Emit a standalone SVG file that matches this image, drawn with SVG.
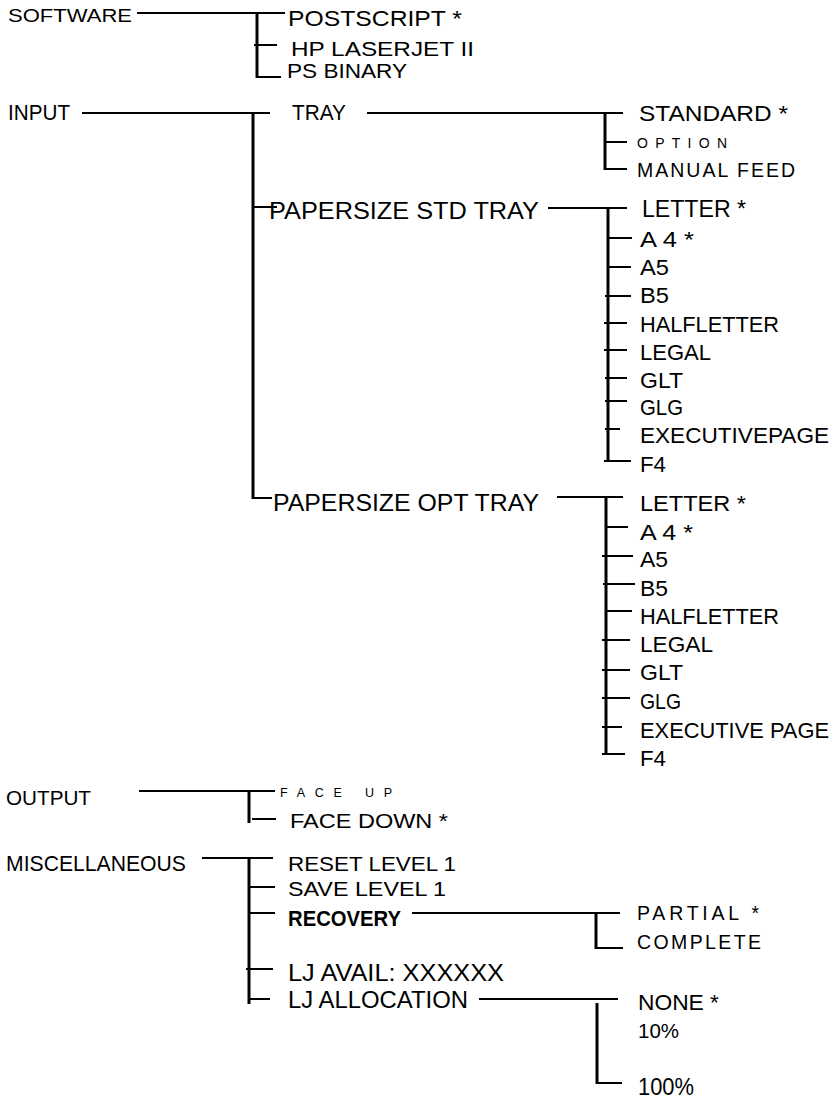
<svg xmlns="http://www.w3.org/2000/svg" width="836" height="1098" viewBox="0 0 836 1098">
<style>
text{font-family:"Liberation Sans",Arial,sans-serif;fill:#000}
.h{stroke:#000;stroke-width:2.2;fill:none}
.v{stroke:#000;stroke-width:3;fill:none}
.sp{letter-spacing:3px}
</style>
<rect width="836" height="1098" fill="#fff"/>
<g id="connectors">
<!-- software -->
<path class="h" d="M137 13H285M254 45H277M257 77H281"/>
<path class="v" d="M257 13V78"/>
<!-- input -->
<path class="h" d="M82 113H270M253 207H277M253 498H272"/>
<path class="v" d="M253 113V499"/>
<!-- tray -->
<path class="h" d="M367 113H623M605 142H627M605 169H627"/>
<path class="v" d="M605 113V170"/>
<!-- papersize std -->
<path class="h" d="M548 208H627M608 238H632M608 267H631M605 296H631M604 323H627M604 350H627M605 378H627M605 401H627M605 429H620M604 461H631"/>
<path class="v" d="M608 208V462"/>
<!-- papersize opt -->
<path class="h" d="M557 497H623M606 527H628M602 556H633M603 584H635M606 611H632M602 640H630M602 670H630M602 698H630M602 727H622M602 754H625"/>
<path class="v" d="M606 497V755"/>
<!-- output -->
<path class="h" d="M139 791H275M252 819H276"/>
<path class="v" d="M249 791V823"/>
<!-- misc -->
<path class="h" d="M202 858H273M248 887H275M249 913H275M246 969H273M249 999H270"/>
<path class="v" d="M249 858V1004"/>
<!-- recovery -->
<path class="h" d="M412 913H620M596 948H623"/>
<path class="v" d="M596 913V949"/>
<!-- allocation -->
<path class="h" d="M479 999H618M597 1083H622"/>
<path class="v" d="M597 1003V1084"/>
</g>
<g id="software"><text x="8" y="22" font-size="18" textLength="124" lengthAdjust="spacingAndGlyphs">SOFTWARE</text></g>
<g id="postscript"><text x="288" y="26" font-size="21.5" textLength="174" lengthAdjust="spacingAndGlyphs">POSTSCRIPT  *</text></g>
<g id="hp-laserjet"><text x="291" y="56" font-size="21" textLength="183" lengthAdjust="spacingAndGlyphs">HP LASERJET II</text></g>
<g id="ps-binary"><text x="287" y="78" font-size="21" textLength="120" lengthAdjust="spacingAndGlyphs">PS BINARY</text></g>
<g id="input"><text x="8" y="120" font-size="22" textLength="62" lengthAdjust="spacingAndGlyphs">INPUT</text></g>
<g id="tray"><text x="292" y="120" font-size="22" textLength="54" lengthAdjust="spacingAndGlyphs">TRAY</text></g>
<g id="standard"><text x="639" y="121" font-size="22" textLength="149" lengthAdjust="spacingAndGlyphs">STANDARD  *</text></g>
<g id="option"><text x="637" y="148" font-size="14" textLength="90" lengthAdjust="spacing">OPTION</text></g>
<g id="manual-feed"><text x="637" y="177" font-size="19.5" textLength="158" lengthAdjust="spacing">MANUAL FEED</text></g>
<g id="papersize-std"><text x="269" y="219" font-size="23" textLength="270" lengthAdjust="spacingAndGlyphs">PAPERSIZE  STD  TRAY</text></g>
<g id="std-letter"><text x="642" y="217" font-size="23" textLength="104" lengthAdjust="spacingAndGlyphs">LETTER *</text></g>
<g id="std-a4"><text x="640" y="247" font-size="21.5" textLength="54" lengthAdjust="spacingAndGlyphs">A 4 *</text></g>
<g id="std-a5"><text x="640" y="275" font-size="21.5" textLength="29" lengthAdjust="spacingAndGlyphs">A5</text></g>
<g id="std-b5"><text x="640" y="303" font-size="21.5" textLength="29" lengthAdjust="spacingAndGlyphs">B5</text></g>
<g id="std-halfletter"><text x="640" y="332" font-size="21.5" textLength="139" lengthAdjust="spacingAndGlyphs">HALFLETTER</text></g>
<g id="std-legal"><text x="640" y="360" font-size="21.5" textLength="71" lengthAdjust="spacingAndGlyphs">LEGAL</text></g>
<g id="std-glt"><text x="640" y="388" font-size="21.5" textLength="43" lengthAdjust="spacingAndGlyphs">GLT</text></g>
<g id="std-glg"><text x="640" y="415" font-size="21.5" textLength="43" lengthAdjust="spacingAndGlyphs">GLG</text></g>
<g id="std-executive"><text x="640" y="443" font-size="21.5" textLength="189" lengthAdjust="spacingAndGlyphs">EXECUTIVEPAGE</text></g>
<g id="std-f4"><text x="640" y="472" font-size="21.5" textLength="26" lengthAdjust="spacingAndGlyphs">F4</text></g>
<g id="papersize-opt"><text x="273" y="511" font-size="23.5" textLength="266" lengthAdjust="spacingAndGlyphs">PAPERSIZE  OPT  TRAY</text></g>
<g id="opt-letter"><text x="640" y="511" font-size="22.5" textLength="106" lengthAdjust="spacingAndGlyphs">LETTER  *</text></g>
<g id="opt-a4"><text x="640" y="540" font-size="21.5" textLength="53" lengthAdjust="spacingAndGlyphs">A 4 *</text></g>
<g id="opt-a5"><text x="640" y="567" font-size="21.5" textLength="28" lengthAdjust="spacingAndGlyphs">A5</text></g>
<g id="opt-b5"><text x="640" y="596" font-size="21.5" textLength="28" lengthAdjust="spacingAndGlyphs">B5</text></g>
<g id="opt-halfletter"><text x="640" y="624" font-size="21.5" textLength="139" lengthAdjust="spacingAndGlyphs">HALFLETTER</text></g>
<g id="opt-legal"><text x="640" y="652" font-size="21.5" textLength="73" lengthAdjust="spacingAndGlyphs">LEGAL</text></g>
<g id="opt-glt"><text x="640" y="680" font-size="21.5" textLength="43" lengthAdjust="spacingAndGlyphs">GLT</text></g>
<g id="opt-glg"><text x="640" y="709" font-size="21.5" textLength="41" lengthAdjust="spacingAndGlyphs">GLG</text></g>
<g id="opt-executive"><text x="640" y="738" font-size="21.5" textLength="189" lengthAdjust="spacingAndGlyphs">EXECUTIVE  PAGE</text></g>
<g id="opt-f4"><text x="640" y="766" font-size="21.5" textLength="26" lengthAdjust="spacingAndGlyphs">F4</text></g>
<g id="output"><text x="6" y="805" font-size="19.5" textLength="85" lengthAdjust="spacingAndGlyphs">OUTPUT</text></g>
<g id="face-up"><text x="280" y="797" font-size="12.5" textLength="112" lengthAdjust="spacing">FACE UP</text></g>
<g id="face-down"><text x="290" y="828" font-size="21" textLength="158" lengthAdjust="spacingAndGlyphs">FACE DOWN *</text></g>
<g id="miscellaneous"><text x="6" y="871" font-size="22" textLength="180" lengthAdjust="spacingAndGlyphs">MISCELLANEOUS</text></g>
<g id="reset-level"><text x="288" y="871" font-size="21" textLength="168" lengthAdjust="spacingAndGlyphs">RESET LEVEL 1</text></g>
<g id="save-level"><text x="288" y="896" font-size="21" textLength="158" lengthAdjust="spacingAndGlyphs">SAVE  LEVEL  1</text></g>
<g id="recovery"><text x="288" y="926" font-size="22" font-weight="bold" textLength="113" lengthAdjust="spacingAndGlyphs">RECOVERY</text></g>
<g id="partial"><text x="637" y="920" font-size="19.5" textLength="122" lengthAdjust="spacing">PARTIAL *</text></g>
<g id="complete"><text x="637" y="949" font-size="19.5" textLength="124" lengthAdjust="spacing">COMPLETE</text></g>
<g id="lj-avail"><text x="288" y="981" font-size="23.5" textLength="216" lengthAdjust="spacingAndGlyphs">LJ  AVAIL:  XXXXXX</text></g>
<g id="lj-allocation"><text x="288" y="1008" font-size="23.5" textLength="180" lengthAdjust="spacingAndGlyphs">LJ   ALLOCATION</text></g>
<g id="none"><text x="638" y="1010" font-size="22" textLength="81" lengthAdjust="spacingAndGlyphs">NONE  *</text></g>
<g id="ten"><text x="638" y="1038" font-size="21" textLength="41" lengthAdjust="spacingAndGlyphs">10%</text></g>
<g id="hundred"><text x="638" y="1095" font-size="23" textLength="56" lengthAdjust="spacingAndGlyphs">100%</text></g>
</svg>
